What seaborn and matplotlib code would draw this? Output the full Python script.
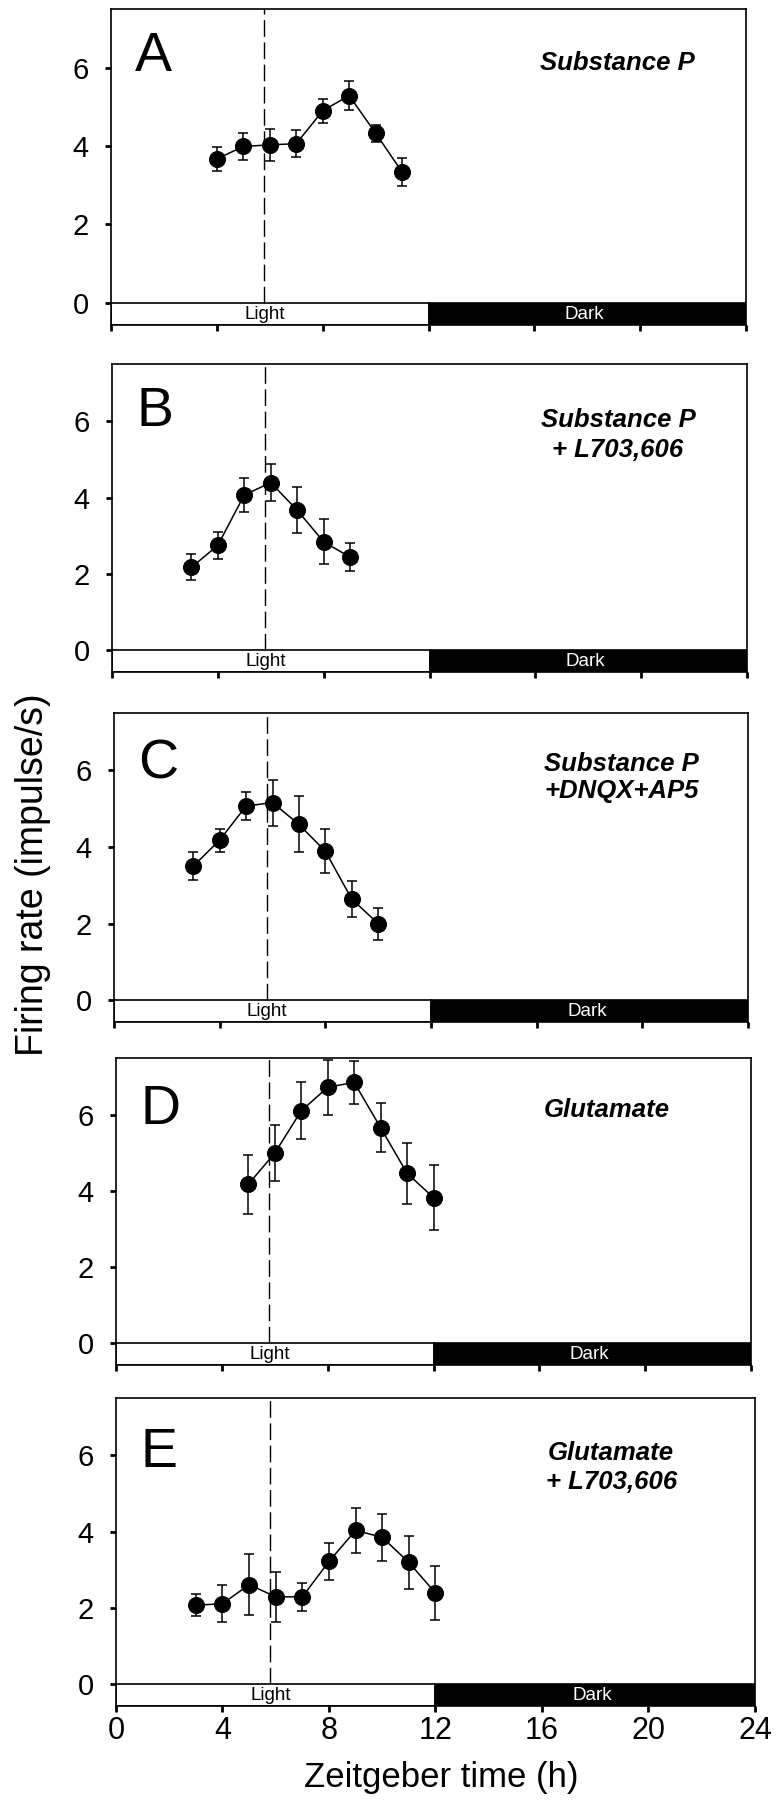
import numpy as np
import pandas as pd
import seaborn as sns
import matplotlib.pyplot as plt

# panel annotations
panel_letters = ["A", "B", "C", "D", "E"]
panel_labels = ["Substance P",
                "Substance P\n+ L703,606",
                "Substance P\n+DNQX+AP5",
                "Glutamate",
                "Glutamate\n+ L703,606"]

# firing rate (mean +/- SEM) per zeitgeber hour
zt_a = [4, 5, 6, 7, 8, 9, 10, 11]
rate_a = [3.67, 3.99, 4.03, 4.06, 4.90, 5.29, 4.33, 3.34]
sem_a = [0.30, 0.34, 0.40, 0.35, 0.31, 0.36, 0.22, 0.35]

zt_b = [3, 4, 5, 6, 7, 8, 9]
rate_b = [2.17, 2.75, 4.07, 4.39, 3.67, 2.84, 2.44]
sem_b = [0.34, 0.35, 0.45, 0.48, 0.61, 0.59, 0.36]

zt_c = [3, 4, 5, 6, 7, 8, 9, 10]
rate_c = [3.50, 4.18, 5.07, 5.16, 4.59, 3.89, 2.64, 2.00]
sem_c = [0.37, 0.30, 0.37, 0.60, 0.73, 0.58, 0.48, 0.42]

zt_d = [5, 6, 7, 8, 9, 10, 11, 12]
rate_d = [4.18, 5.00, 6.11, 6.73, 6.86, 5.67, 4.47, 3.83]
sem_d = [0.77, 0.73, 0.75, 0.72, 0.56, 0.64, 0.80, 0.86]

zt_e = [3, 4, 5, 6, 7, 8, 9, 10, 11, 12]
rate_e = [2.07, 2.11, 2.61, 2.29, 2.29, 3.22, 4.03, 3.85, 3.19, 2.39]
sem_e = [0.29, 0.48, 0.80, 0.65, 0.36, 0.48, 0.58, 0.61, 0.69, 0.71]

# light/dark schedule and recording start
phase_names = ["Light", "Dark"]
phase_start = [0, 12]
phase_end = [12, 24]
slice_time = 5.8

panels = [(zt_a, rate_a, sem_a), (zt_b, rate_b, sem_b), (zt_c, rate_c, sem_c),
          (zt_d, rate_d, sem_d), (zt_e, rate_e, sem_e)]

sns.set_style("ticks")
plt.rcParams["font.family"] = ["Liberation Sans", "DejaVu Sans"]
plt.rcParams.update({"text.color": "black", "axes.labelcolor": "black",
                     "xtick.color": "black", "ytick.color": "black",
                     "axes.edgecolor": "black"})

W, H = 779, 1800
fig = plt.figure(figsize=(W / 100, H / 100), dpi=100)

# axes boxes in pixels: left, top, right, bottom
boxes = [(111, 9, 746, 325), (112, 364, 747, 672), (114, 713, 748, 1022),
         (116, 1058, 751, 1365), (116, 1398, 755, 1706)]
letter_y = [0.848, 0.845, 0.832, 0.83, 0.82]
label_xy = [(0.797, 0.829), (0.797, 0.77), (0.80, 0.79), (0.773, 0.83), (0.775, 0.774)]
label_ls = [1.3, 1.32, 1.15, 1.3, 1.27]
bar_bottom = -0.57

for i, (zt, rate, sem) in enumerate(panels):
    l, t, r, b = boxes[i]
    ax = fig.add_axes([l / W, 1 - b / H, (r - l) / W, (b - t) / H])
    df = pd.DataFrame({"zt": zt, "rate": rate})

    ax.errorbar(zt, rate, yerr=sem, fmt="none", ecolor="black",
                elinewidth=1.1, capsize=3.8, capthick=1.1, zorder=2)
    sns.lineplot(data=df, x="zt", y="rate", ax=ax, color="black", lw=1.1,
                 marker="o", markersize=11.5, markeredgecolor="black", zorder=3)

    # light / dark bar
    mids = [(s + e) / 2 for s, e in zip(phase_start, phase_end)]
    widths = [e - s for s, e in zip(phase_start, phase_end)]
    ax.bar(mids, [-bar_bottom] * 2, bottom=bar_bottom, width=widths,
           color=["white", "black"], edgecolor="black", linewidth=1.2, zorder=1)
    ax.text(slice_time, bar_bottom / 2 - 0.02, phase_names[0], ha="center", va="center",
            fontsize=13.5, color="black", zorder=4)
    ax.text(mids[1] - 0.1, bar_bottom / 2 - 0.02, phase_names[1], ha="center", va="center",
            fontsize=13.5, color="white", zorder=4)

    ax.plot([slice_time, slice_time], [0, 7.5], color="black", lw=1,
            ls=(0, (12, 4)), zorder=1)

    ax.set_xlim(0, 24)
    ax.set_ylim(bar_bottom, 7.5)
    ax.set_xticks(range(0, 25, 4))
    ax.set_yticks([0, 2, 4, 6])
    ax.set_xlabel("")
    ax.set_ylabel("")
    for s in ax.spines.values():
        s.set_linewidth(1.2)
        s.set_visible(True)
    ax.tick_params(direction="out", length=4, width=2)
    ax.tick_params(axis="y", labelsize=21, pad=12)
    if i < 4:
        ax.tick_params(axis="x", labelbottom=False)
    else:
        ax.tick_params(axis="x", labelsize=22, pad=3)

    ax.text(0.038, letter_y[i], panel_letters[i], transform=ax.transAxes,
            ha="left", va="center", fontsize=40)
    ax.text(label_xy[i][0], label_xy[i][1], panel_labels[i], transform=ax.transAxes,
            ha="center", va="center", fontsize=18.5,
            style="italic", weight="bold", linespacing=label_ls[i])

fig.text(33 / W, 1 - 875 / H, "Firing rate (impulse/s)", rotation=90,
         ha="center", va="center", fontsize=27)
fig.text(441 / W, 1 - 1787 / H, "Zeitgeber time (h)", ha="center", va="baseline",
         fontsize=25)

fig.savefig("out.png", dpi=100)
